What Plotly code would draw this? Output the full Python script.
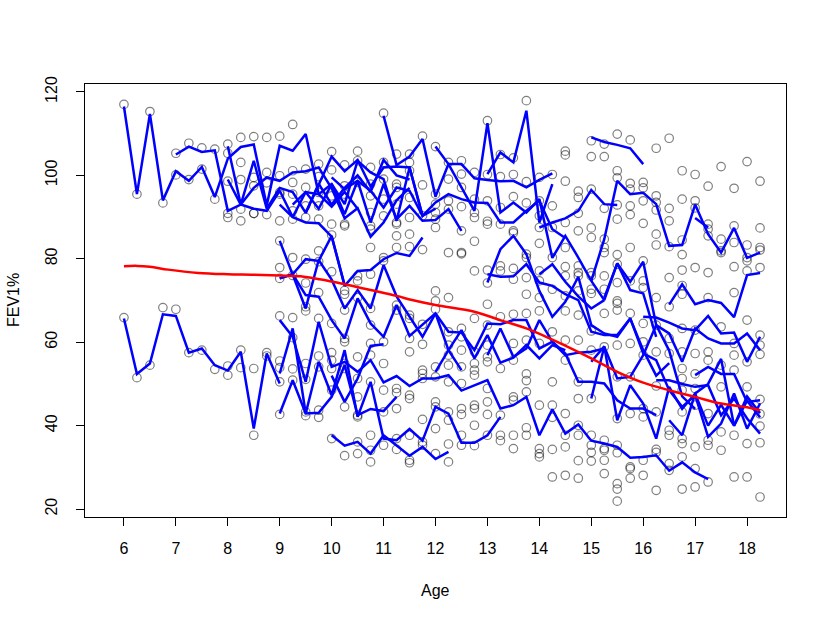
import plotly.graph_objects as go

obs_ages = [6 + 0.25 * i for i in range(50)]
obs_fev = [
 [117,65.9],[95.5,51.5],[115.3,54.5],[93.4,68.3],[105.3,100.1,67.9],[107.7,99,57.5],[106.6,101.5,58.1],[106.3,94.3,53.5],
 [107.5,105.3,98.6,90.9,89.9,54.3,52.1],[109.1,103.1,99,91.9,89.1,58.1,53.9],[109.3,99.5,97.5,90.9,90.9,53.7,37.7],[109.1,100.7,98.2,90.6,57.5,56.7],
 [109.4,99.9,95.9,95.5,89.1,84.3,77.9,75.3,66.3,55.5,53.9,50.5,42.7],[112.2,101.1,98.3,95.5,91.5,89.5,80.3,76,65.9,61.1,53.6,50.9],
 [101.5,97.1,92.7,89.9,79.9,74.2,68.5,67.5,54.9,51.1,43.3,42.4],[102.7,99.7,95.9,92.7,89.5,81.9,79.3,71.9,65.7,56.7,54.1,43.7,42],
 [105.7,101.3,95.1,88.3,85.7,76.9,64.5,57.5,55.7,53.7,48.5,36.9],[102.5,97.5,95.5,88.3,87.9,72.4,71.5,67.7,60.9,60.1,54.9,53.7,44.5,32.8],
 [105.8,103.5,98.7,98.3,75.9,74.7,70.7,56.5,51.3,46.9,42.5,42.1,36.1,33.3],[101.9,97.9,95.1,91.1,87.9,87.1,82.7,76.3,68.1,64.1,59.7,56.9,50.5,37.7,34.1,31.3],
 [114.9,103.1,99.1,94.3,90.3,80.3,79.5,60.1,54.9,48.5,43.3,35.3],[105.1,97.9,97.1,93.1,88.7,88.3,85.5,82.7,68.9,67.7,48.9,47.9,44.1,36.9,34.3],
 [105.1,103.1,101.1,94.7,89.9,85.9,82.9,66.5,65.7,60.9,57.7,47.3,46.5,37.7,31.7,31.1],[109.4,97.7,90.3,82.2,64.3,59.5,53.3,52.5,51.3,41.5,36.1,35.3],
 [106.9,95.5,93.1,91.1,89.5,87.5,72.3,69.9,67.9,54.1,51.7,45.7,44.5,39.3,33.3],[103.1,99.1,93.9,91.9,81.5,70.7,62.5,59.3,56.9,54.5,50.5,43.3,41.3,35.6,31.3],
 [103.5,100.3,97.1,92.5,86.7,81.5,81.2,63.3,61.3,58.1,54.1,50.1,44.1,42.7,37.7,35.3],[100.7,94.3,91.1,89.9,84.2,77.1,65.7,57.7,54.9,53.3,52.1,44.9,44.1,40.1,35.2],
 [113.1,100.2,93.9,89,88.3,77.3,74.2,69.1,64.1,59.3,56.5,55.3,48.9,45.7,42.7,37.7],[105,99.7,92.3,88.3,78.3,77.1,66.1,53.7,42.5,37.7,36.4],
 [104.2,100.2,94.9,86.7,86.2,77.7,75.1,66.7,59.7,55.7,46.9,46.1,37.7,34.5],[117.9,98.5,93.4,81.1,80.3,75.5,71.5,66.9,60.5,52.4,50.8,48.1,39.5,37.7],
 [99.5,93.9,90.3,87.5,83.7,77.1,74.7,70.7,67.5,59.7,44.9,34.5,33.3,32.5],[100.2,92.7,87.5,80.3,72.7,62.5,50.5,44.9,42,34.3,27.7],
 [105.8,104.9,98.6,88.7,82.7,78.1,75.9,71.1,67.5,60.5,55.7,42.9,37.7,34.9,28.1],[96.2,94.7,90.9,86.7,78.3,76.7,75.9,72.3,66.5,60.5,50.5,46.5,40.1,37.7,31.6,27.4],
 [108.3,104.5,96.7,87.4,85.1,76.7,75.9,72.7,71.7,62.7,58.1,46.5,37.7,35.3,33.6,31.5],[107.5,104.5,92.1,84.7,82.7,81.5,75.9,72.7,66.9,58.9,36.5,34.5,34.1,31.7,28.5],
 [109.9,101.1,99.4,92.9,89.5,81,78.7,74.3,69.9,69.3,67.7,59.3,51.7,41.7,35.3,33.5,26.1,24.8,21.9],[108.5,98.1,96.7,92.7,90.6,82.7,74.7,66.9,59.7,51.7,42.9,30.1,29.7,27.4],
 [98.3,97,93.9,88.5,79.5,74.7,73.1,64.5,60.1,56.9,44.1,42.1,31.7,28.1],[106.5,95.1,93.5,91.7,85.9,83.3,70.7,64.1,57.7,49.5,43.3,34.3,33.6,24.5],
 [108.9,92.1,89.1,82.9,75.5,68.5,60.9,57.3,38.9,37.7,30.9,29.3],[101.1,94.3,84.5,81,77.3,73.6,71.5,63.3,57.7,53.7,51.3,48.5,43.3,36.9,35.7,32.5,24.8],
 [100.2,93.9,92.2,77.9,62.9,57.3,52.4,48.9,44.9,34.9,29.7,25.3],[97.4,88.3,87.1,85.5,76.7,70.7,57.7,55.7,42.9,36.5,35.3,26.5],
 [102.1,84.7,81.9,81.5,63.7,54.5,49.3,38.5,34.1],[96.9,87.9,83.9,78.1,71.9,59.7,56.9,53.3,37.7,27.7],
 [103.3,83.3,80.3,79.5,77.1,65.3,55.3,49.3,35.7,27.7],[98.6,87.4,82.7,82.1,77.9,61.7,59.3,57.1,46.3,42.8,39.9,35.9,22.9],
]

subject_starts = [6, 6, 7, 8, 8, 9.25, 10, 9.5, 9, 9, 9,
                  9, 9, 9, 10, 10, 11, 12, 12, 13, 13, 13, 13, 14, 14, 15, 15.25, 15, 15, 15, 16, 16.25, 16.5, 16.5, 17, 17, 9]
subject_fev = [
 [116.5,95.5,114.7,94,101,98.7,102,94.8,104,106.8,107.4,92.8,107.1,105.9,109.9,95.5,92.5,96,92],
 [65.7,52.4,54.9,66.7,66.3,57.5,58.5,54.5,53.2,57.7,39.3,57.3,50.1],
 [105,106.9,105.6,106,91.5,93,97,99.5,98.7,100.7,101,101.9,96.9,89.7,92.1,85.3,88.7,94,97],
 [99,93,103.5,92,97,96,91,98,93,97,100,96,103.7,100,99],
 [107,93,92,91.5,96.3,90,96,95.5,97.9,93.1,103.5,100.7,99.1,89.1,101.9,90.3],
 [93,96,92,97.9,90.7,98.7,88.7,97.9,89.5,92.7,89.1,89.3,91.9,86.7],
 [99.5,96.7,98.7,96.3,92.3,97.1,96.3,90.3,93.5,95.5,94.3,93.5,93.4,88.7,88.7,91.5,93.9,87.1,85],
 [91,97.7,104.5,101,103.7,97.3,101.9,102.1,101.9,90.3,92],
 [93,90,88.7,88.5,85.3,73.7],
 [75.3,76.3,79.9,79.5,85.5,73.5,77.1,77.3,79.9,81.4,80.7,85.1],
 [84.3,76,68.1,79.7,75,68.1,72.5,68.1,78.5,71,66,61.3,66.9,58.1,53.3],
 [75.3,76.3,71.3,70.9,65.3,60.9,70.5,64.5,61.3,68.9,61.5,64.1,66.9,62.5,62.3,58.1,64.5,64.3,65.3,65.3,58.5,60.1,56.9,57.5,57.7,58.5],
 [65.3,61.3,50.5,64.9,54.1,55.3,52.9,55.7,50.4,51.9,49.5,51.3,51.3,52.1,48.4,49.7,50.9,44.1,44.9,46.9,37.7,43.9,38.1,40.3,36.4,35.7,34.9,32.3,32.5,32.9,29.2,31.2,28.8,27.2],
 [52.5,63.3,42.9,55.3,47.3,58.1,42.1,50.5,36.9,36.5,39.2,36.4,44.5,42.9,35.9,35.9,37.7,42.1],
 [37.7,35.2,36.1,33.3,37.7,35.2,32.8,34.9,32,33.7],
 [52,45.7,51.3,59.1,59.5],
 [114.3,102.5,104.5,108.7,94.9,102.7,102.7,99.3,98.9,98.6,98.7,97.1,98.9,100.5],
 [106.9,102.7,97.1,91.5,112.5,91.1,93.5,91.1,94.3,80.2,85.5,80.3,74.7,70.1,78.9,72.5,71.7,61.3],
 [52.9,58.1,62.9,56.1,61.7,55.1,56.3,59.3,56.1,59.3,58.1],
 [100.3,105.5,103.1,115.5,88.7,97.9],
 [74.3,82.3,85.5,81.1,72.3,66.1,69.7,75.7,64.1,62.1,61.3,65.7,58.1,52,55],
 [76.3,75.7,75.8,78.7,74.3,73.5,71.5,70.1,62.5,61.7,61.7,65.7,57.3,55.7,48.5,44.5,47.3,37.3,40.5,47.7,39.3,45.3],
 [56.9,63.3,56.5,58.5,65.3,60.1,57.3,50.5,50.5,50.1,46.1,44.1,44.1,42.5],
 [76.3,78.7,74.5,71,68.1,70.1],
 [87.5,88.7,89.7,91.5,96.5,93.1,92.9],
 [109.1,108,107.3,106.5,102.7],
 [70.7,78.9,74.5,79.3,64.1,58,47,44],
 [74.7,84.7,98.7,95.5,95.8,93.1,83.1,83.3,93,85.9,81.5,87.4,80.2,81.5],
 [55.3,59,41.3,49.7,45.3,36.9,49.3,44,47.7,40,45,40,47,43],
 [46.5,58.9,51.3,51.7,56.9,64.1,62.1,55.3,63.3,60.9,59.7,59.7,62.1,58.1],
 [66.1,65.9,64.7,63.3,62.9,66.3,62.1,62.3,55.3,61.3],
 [50.9,50.9,50,49.3,49.7,42.5,46.5,41.7,38.1],
 [41.3,37.7,47.7,50,56,40,46,42],
 [69,73.9,69.1,70.1,69.4,66,76.1,76.6],
 [52.1,54.1,52.4,52.4,45.7,46.1],
 [89.8,87.5],
 [42.9,50.9,42.9,43.1,46.9,54.5,42.5,44,43.5,46.9],
]

smooth_ages = [6, 6.25, 6.5, 6.85, 7.43, 8, 8.5, 9, 9.4, 9.77, 10.25, 10.75, 11.25, 11.55, 12, 12.75, 13.25, 13.75, 14.25, 15, 15.5, 16, 16.5, 17, 17.5, 18, 18.25]
smooth_fev = [78.2, 78.3, 78.1, 77.4, 76.6, 76.3, 76.2, 76, 75.8, 75.1, 73.9, 72.5, 71.1, 70.1, 68.9, 67.3, 65.3, 63.3, 60.6, 56.1, 52.9, 50.3, 48.5, 46.9, 45.3, 44.4, 43.7]

x_ticks = list(range(6, 19))
y_ticks = list(range(20, 121, 20))

fig = go.Figure()
px, py = [], []
for a, vals in zip(obs_ages, obs_fev):
    px += [a] * len(vals)
    py += vals
fig.add_trace(go.Scatter(x=px, y=py, mode="markers", showlegend=False,
    marker=dict(symbol="circle-open", size=8.5, color="rgba(0,0,0,0.5)", line=dict(width=1.2, color="rgba(0,0,0,0.5)"))))
for s, vals in zip(subject_starts, subject_fev):
    fig.add_trace(go.Scatter(x=[s + 0.25 * i for i in range(len(vals))], y=vals, mode="lines", showlegend=False,
        line=dict(color="#0000ff", width=2.5)))
fig.add_trace(go.Scatter(x=smooth_ages, y=smooth_fev, mode="lines", showlegend=False,
    line=dict(color="#ff0000", width=2.5, shape="spline")))

font = dict(family="Liberation Sans, Arial, sans-serif", size=16, color="black")
axis = dict(showgrid=False, zeroline=False, showline=True, mirror=True, linecolor="black", linewidth=1.2,
            ticks="outside", ticklen=8, tickcolor="black", tickwidth=1, tickfont=font, automargin=False)
fig.update_layout(
    width=830, height=623, margin=dict(l=85, r=44, t=84, b=106),
    paper_bgcolor="white", plot_bgcolor="white", font=font, showlegend=False,
    xaxis=dict(range=[5.25, 18.75], tickvals=x_ticks, ticklabelstandoff=9, **axis),
    yaxis=dict(range=[18.1, 121.9], tickvals=y_ticks, tickangle=-90, ticklabelstandoff=13, **axis),
    annotations=[
        dict(text="Age", xref="paper", yref="paper", x=0.5, y=0, yshift=-84, showarrow=False, font=font),
        dict(text="FEV1%", xref="paper", yref="paper", x=0, y=0.5, xshift=-82, textangle=-90, showarrow=False, font=font),
    ],
)
fig.write_html("out.html", config=dict(displayModeBar=False),
               post_script="document.body.style.margin='0';document.body.style.overflow='hidden';")
